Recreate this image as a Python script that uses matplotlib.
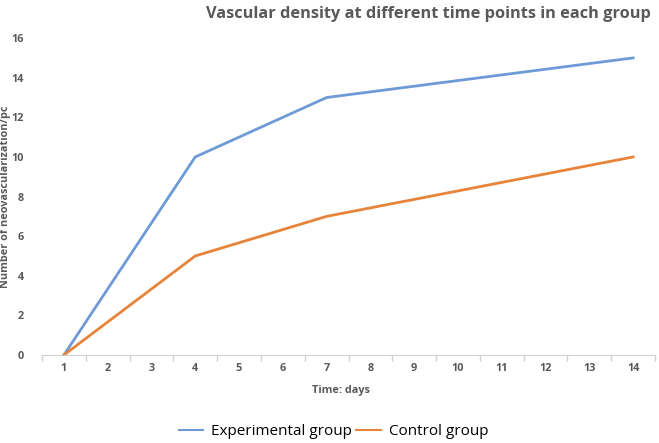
import matplotlib
matplotlib.use("Agg")
import matplotlib.pyplot as plt
from matplotlib.ticker import FixedLocator

days = [1, 4, 7, 14]
experimental = [0, 10, 13, 15]
control = [0, 5, 7, 10]
x_ticks = list(range(1, 15))
y_ticks = [0, 2, 4, 6, 8, 10, 12, 14, 16]

plt.rcParams['font.family'] = ['Open Sans', 'DejaVu Sans']

fig = plt.figure(figsize=(6.59, 4.43), dpi=100)
ax = fig.add_axes([0.0637, 0.1986, 0.9303, 0.7154])

blue = '#6f9ad8'
orange = '#e8833a'
ax.plot(days, experimental, color=blue, lw=2, label='Experimental group')
ax.plot(days, control, color=orange, lw=2, label='Control group')

ax.set_xlim(0.5, 14.5)
ax.set_ylim(0, 16)
ax.set_xticks(x_ticks)
ax.xaxis.set_minor_locator(FixedLocator([i + 0.5 for i in range(0, 15)]))
ax.tick_params(axis='x', which='major', length=0, pad=6)
ax.tick_params(axis='x', which='minor', length=4, color='#d0d0d0', width=1)
ax.set_yticks(y_ticks)
ax.tick_params(axis='y', length=0, pad=13)
for lab in ax.get_xticklabels() + ax.get_yticklabels():
    lab.set_fontsize(7.8)
    lab.set_color('#595959')
    lab.set_fontweight('bold')

for s in ['top', 'right', 'left']:
    ax.spines[s].set_visible(False)
ax.spines['bottom'].set_color('#d0d0d0')

ax.set_xlabel('Time: days', fontsize=7.8, fontweight='bold', color='#595959')
ax.xaxis.set_label_coords(0.487, -0.095)
ax.set_ylabel('Number of neovascularization/pc', fontsize=7.8, fontweight='bold', color='#595959')
ax.yaxis.set_label_coords(-0.05, 0.5)

fig.text(0.65, 0.968, 'Vascular density at different time points in each group',
         ha='center', va='center', fontsize=11.8, fontweight='bold', color='#595959')

leg = fig.legend(loc='center', bbox_to_anchor=(0.506, 0.025), ncol=2, frameon=False,
                 fontsize=11, handlelength=1.6, handletextpad=0.5, columnspacing=0.3)
for h in leg.get_lines():
    h.set_linewidth(1.5)

fig.savefig('out.png', dpi=100)
